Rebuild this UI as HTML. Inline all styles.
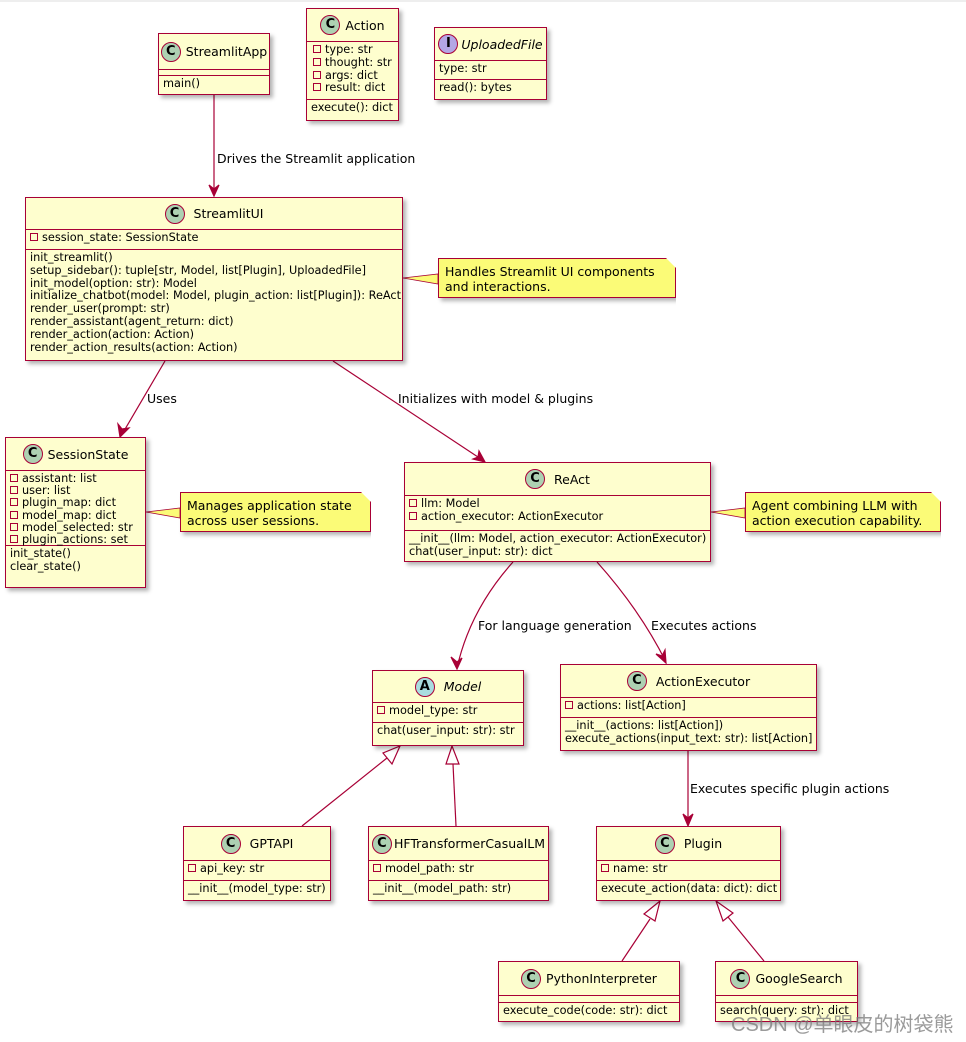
<!DOCTYPE html>
<html><head><meta charset="utf-8"><style>
body{margin:0;width:966px;height:1042px;background:#fff;position:relative;overflow:hidden;font-family:"DejaVu Sans","Liberation Sans",sans-serif;font-size:11.3px;color:#000}
.b{position:absolute;background:#FEFECE;border:1.5px solid #A80036;box-sizing:border-box;box-shadow:3px 3px 4px rgba(0,0,0,.3);white-space:nowrap}
.h{display:flex;align-items:center;justify-content:center;font-size:12.5px;border-bottom:1.5px solid #A80036;box-sizing:border-box;white-space:nowrap}
.s{border-bottom:1.5px solid #A80036;box-sizing:border-box;padding:2px 4px 0;line-height:12.8px;white-space:nowrap;overflow:visible}
.s:last-child{border-bottom:none}
.ic{flex-shrink:0;display:inline-block;width:20px;height:20px;border-radius:50%;border:1px solid #A80036;box-sizing:border-box;font-weight:bold;font-size:13px;line-height:18px;text-align:center;margin-right:5px;background:#ADD1B2}
.sq{display:inline-block;width:6px;height:6px;border:1px solid #A80036;margin-right:4px;vertical-align:0px}
.n{position:absolute;background:#FBFB77;border:1px solid #A80036;box-sizing:border-box;box-shadow:3px 3px 4px rgba(0,0,0,.3);font-size:12.5px;line-height:15px;padding:5px 6px;white-space:nowrap;clip-path:polygon(0 0,calc(100% - 10px) 0,100% 10px,100% 120%,-10px 120%);}
.lb{position:absolute;font-size:12.5px;white-space:nowrap}
svg{position:absolute;left:0;top:0}
</style></head><body>
<div style="position:absolute;left:0;top:0;width:966px;height:2px;background:#eee"></div>
<svg width="966" height="1042">
<g stroke="#A80036" stroke-width="1.2" fill="none">
<line x1="214" y1="95" x2="214" y2="195"/>
<polygon points="209,185 214,196 219,185 214,189" fill="#A80036"/>
<line x1="165" y1="361" x2="121" y2="436"/>
<polygon points="118,424 120,437 129,428 122,429" fill="#A80036"/>
<line x1="333" y1="361" x2="484" y2="461"/>
<polygon points="473,459 485,462 479,451 478,457" fill="#A80036"/>
<path d="M513,562 Q470,610 457,668"/>
<polygon points="451,657 457,669 462,658 457,662" fill="#A80036"/>
<path d="M597,562 Q640,610 666,662"/>
<polygon points="656,654 666,663 665,650 662,656" fill="#A80036"/>
<line x1="688" y1="751" x2="688" y2="825"/>
<polygon points="683,814 688,826 693,814 688,818" fill="#A80036"/>
<line x1="302" y1="826" x2="387" y2="758"/>
<polygon points="400,746 392,764 383,753" fill="#fff"/>
<line x1="456" y1="826" x2="453" y2="764"/>
<polygon points="452,746 446,764 459,764" fill="#fff"/>
<line x1="622" y1="961" x2="650" y2="919"/>
<polygon points="660,901 655,921 644,914" fill="#fff"/>
<line x1="764" y1="961" x2="728" y2="917"/>
<polygon points="716,901 733,913 723,921" fill="#fff"/>
<polygon points="403,278 438,274 438,284" fill="#FBFB77" stroke-width="0.8"/>
<polygon points="146,512 180,508 180,518" fill="#FBFB77" stroke-width="0.8"/>
<polygon points="711,512 745,508 745,518" fill="#FBFB77" stroke-width="0.8"/>
</g></svg>

<div class="b" style="left:158px;top:33px;width:112px;height:62px"><div class="h" style="height:36px"><span class="ic">C</span>StreamlitApp</div><div class="s" style="height:6px;padding:0"></div><div class="s">main()</div></div>

<div class="b" style="left:306px;top:8px;width:93px;height:113px"><div class="h" style="height:33px"><span class="ic">C</span>Action</div><div class="s" style="height:58px;padding-left:6px"><span class="sq"></span>type: str<br><span class="sq"></span>thought: str<br><span class="sq"></span>args: dict<br><span class="sq"></span>result: dict</div><div class="s">execute(): dict</div></div>

<div class="b" style="left:434px;top:27px;width:113px;height:73px"><div class="h" style="height:33px"><span class="ic" style="background:#B4A7E5;margin-right:3px">I</span><i>UploadedFile</i></div><div class="s" style="height:19px">type: str</div><div class="s">read(): bytes</div></div>

<div class="lb" style="left:217px;top:151px">Drives the Streamlit application</div>

<div class="b" style="left:25px;top:197px;width:378px;height:164px"><div class="h" style="height:32px"><span class="ic">C</span>&nbsp;StreamlitUI</div><div class="s" style="height:20px"><span class="sq"></span>session_state: SessionState</div><div class="s">init_streamlit()<br>setup_sidebar(): tuple[str, Model, list[Plugin], UploadedFile]<br>init_model(option: str): Model<br>initialize_chatbot(model: Model, plugin_action: list[Plugin]): ReAct<br>render_user(prompt: str)<br>render_assistant(agent_return: dict)<br>render_action(action: Action)<br>render_action_results(action: Action)</div></div>

<div class="n" style="left:438px;top:258px;width:238px;height:40px">Handles Streamlit UI components<br>and interactions.</div>

<div class="lb" style="left:147px;top:391px">Uses</div>
<div class="lb" style="left:398px;top:391px">Initializes with model &amp; plugins</div>

<div class="b" style="left:5px;top:437px;width:141px;height:151px"><div class="h" style="height:33px"><span class="ic">C</span>SessionState</div><div class="s" style="height:75px;line-height:12.2px"><span class="sq"></span>assistant: list<br><span class="sq"></span>user: list<br><span class="sq"></span>plugin_map: dict<br><span class="sq"></span>model_map: dict<br><span class="sq"></span>model_selected: str<br><span class="sq"></span>plugin_actions: set</div><div class="s">init_state()<br>clear_state()</div></div>

<div class="n" style="left:180px;top:492px;width:191px;height:40px">Manages application state<br>across user sessions.</div>

<div class="b" style="left:404px;top:462px;width:307px;height:100px"><div class="h" style="height:33px"><span class="ic">C</span>&nbsp;ReAct</div><div class="s" style="height:35px"><span class="sq"></span>llm: Model<br><span class="sq"></span>action_executor: ActionExecutor</div><div class="s">__init__(llm: Model, action_executor: ActionExecutor)<br>chat(user_input: str): dict</div></div>

<div class="n" style="left:745px;top:492px;width:196px;height:40px">Agent combining LLM with<br>action execution capability.</div>

<div class="lb" style="left:478px;top:618px">For language generation</div>
<div class="lb" style="left:651px;top:618px">Executes actions</div>

<div class="b" style="left:372px;top:670px;width:152px;height:76px"><div class="h" style="height:32px"><span class="ic" style="background:#A9DCDF">A</span>&nbsp;<i>Model</i></div><div class="s" style="height:20px"><span class="sq"></span>model_type: str</div><div class="s">chat(user_input: str): str</div></div>

<div class="b" style="left:560px;top:664px;width:257px;height:87px"><div class="h" style="height:33px"><span class="ic">C</span>&nbsp;ActionExecutor</div><div class="s" style="height:20px"><span class="sq"></span>actions: list[Action]</div><div class="s">__init__(actions: list[Action])<br>execute_actions(input_text: str): list[Action]</div></div>

<div class="lb" style="left:690px;top:781px">Executes specific plugin actions</div>

<div class="b" style="left:183px;top:826px;width:148px;height:75px"><div class="h" style="height:34px"><span class="ic">C</span>&nbsp;GPTAPI</div><div class="s" style="height:20px"><span class="sq"></span>api_key: str</div><div class="s">__init__(model_type: str)</div></div>

<div class="b" style="left:368px;top:826px;width:181px;height:75px"><div class="h" style="height:34px"><span class="ic" style="margin-right:2px">C</span>HFTransformerCasualLM</div><div class="s" style="height:20px"><span class="sq"></span>model_path: str</div><div class="s">__init__(model_path: str)</div></div>

<div class="b" style="left:596px;top:826px;width:185px;height:75px"><div class="h" style="height:34px"><span class="ic">C</span>&nbsp;Plugin</div><div class="s" style="height:20px"><span class="sq"></span>name: str</div><div class="s">execute_action(data: dict): dict</div></div>

<div class="b" style="left:498px;top:961px;width:182px;height:61px"><div class="h" style="height:34px"><span class="ic">C</span>PythonInterpreter</div><div class="s" style="height:7px;padding:0"></div><div class="s">execute_code(code: str): dict</div></div>

<div class="b" style="left:715px;top:961px;width:143px;height:61px"><div class="h" style="height:34px"><span class="ic">C</span>GoogleSearch</div><div class="s" style="height:7px;padding:0"></div><div class="s">search(query: str): dict</div></div>

<div class="lb" style="left:731px;top:1008px;font-size:20px;color:rgba(120,120,120,.75);font-family:'Liberation Sans','Noto Sans CJK SC',sans-serif">CSDN @单眼皮的树袋熊</div>
</body></html>
